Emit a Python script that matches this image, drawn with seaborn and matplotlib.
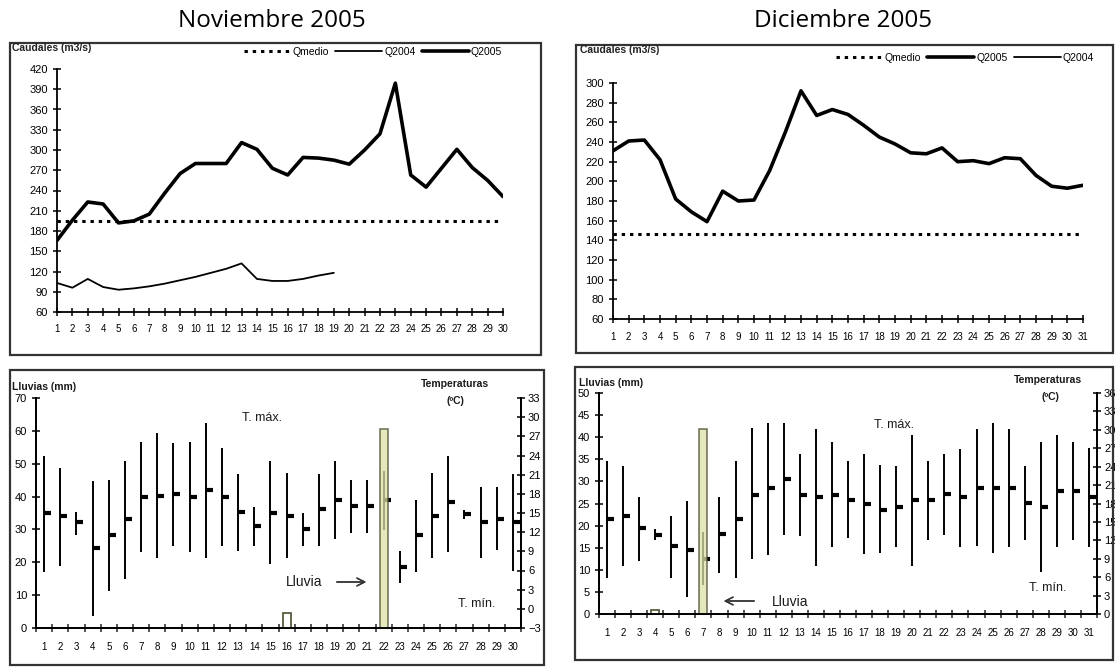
import numpy as np
import pandas as pd
import matplotlib
matplotlib.use("Agg")
import matplotlib.pyplot as plt
from matplotlib.patches import Rectangle
from matplotlib.lines import Line2D
import seaborn as sns

# ---------------- data ----------------
dias_nov = list(range(1, 31))
dias_dic = list(range(1, 32))

q2005_nov = [166, 196, 223, 220, 192, 195, 205, 236, 265, 280, 280, 280, 311, 301, 273,
             263, 289, 288, 285, 279, 300, 324, 399, 263, 245, 273, 301, 274, 255, 231]
q2004_nov = [103, 96, 109, 97, 93, 95, 98, 102, 107, 112, 118, 124, 132, 109, 106,
             106, 109, 114, 118]
qmedio_nov = 195

q2005_dic = [231, 241, 242, 222, 182, 169, 159, 190, 180, 181, 211, 250, 292, 267, 273,
             268, 257, 245, 238, 229, 228, 234, 220, 221, 218, 224, 223, 206, 195, 193, 196]
qmedio_dic = 146

lluvia_nov = [0, 0, 0, 0, 0, 0, 0, 0, 0, 0, 0, 0, 0, 0, 0,
              4.5, 0, 0, 0, 0, 0, 60.5, 0, 0, 0, 0, 0, 0, 0, 0]
tmax_nov = [24.0, 22.0, 15.1, 20.0, 20.2, 23.1, 26.1, 27.5, 26.0, 26.1, 29.1, 25.1, 21.1, 15.9, 23.1,
            21.2, 15.0, 21.1, 23.1, 20.2, 20.1, 21.6, 9.0, 17.1, 21.2, 24.0, 15.4, 19.0, 19.0, 21.1]
tmin_nov = [5.7, 6.7, 11.6, -1.1, 2.8, 4.7, 8.9, 7.9, 9.8, 8.9, 7.9, 9.8, 9.1, 9.8, 7.0,
            8.0, 9.8, 9.8, 11.0, 11.9, 11.9, 12.3, 4.0, 5.8, 8.0, 8.9, 14.1, 8.0, 9.2, 6.0]
tmed_nov = [15.0, 14.6, 13.6, 9.5, 11.5, 14.1, 17.5, 17.7, 18.0, 17.5, 18.6, 17.5, 15.2, 12.9, 15.0,
            14.6, 12.5, 15.6, 17.1, 16.1, 16.1, 17.0, 6.5, 11.5, 14.6, 16.7, 14.9, 13.6, 14.1, 13.6]

lluvia_dic = [0, 0, 0, 0.8, 0, 0, 41.8, 0, 0, 0, 0, 0, 0, 0, 0, 0,
              0, 0, 0, 0, 0, 0, 0, 0, 0, 0, 0, 0, 0, 0, 0]
tmax_dic = [25.0, 24.1, 19.1, 13.9, 15.9, 18.4, 13.4, 19.1, 25.0, 30.3, 31.1, 31.1, 26.1, 30.2, 28.0,
            25.0, 26.1, 24.2, 24.1, 29.1, 24.9, 26.1, 26.9, 30.2, 31.1, 30.2, 24.1, 28.0, 29.1, 28.0, 27.0]
tmin_dic = [5.9, 7.8, 8.6, 12.0, 5.9, 2.8, 4.7, 6.7, 5.9, 8.9, 9.6, 12.8, 12.7, 7.8, 10.9,
            12.3, 9.7, 9.9, 10.9, 7.8, 12.0, 12.8, 10.9, 11.0, 9.9, 10.9, 12.0, 6.8, 10.9, 12.0, 10.9]
tmed_dic = [15.5, 16.0, 14.0, 12.9, 11.0, 10.5, 9.0, 13.0, 15.5, 19.4, 20.5, 22.0, 19.4, 19.1, 19.4,
            18.5, 18.0, 17.0, 17.5, 18.5, 18.5, 19.5, 19.1, 20.6, 20.5, 20.5, 18.1, 17.5, 20.1, 20.1, 19.1]

titulos = ["Noviembre 2005", "Diciembre 2005"]

# ---------------- style ----------------
sns.set_theme(style="white")
plt.rcParams['font.family'] = ['Liberation Sans', 'DejaVu Sans']
plt.rcParams['axes.edgecolor'] = 'black'
plt.rcParams['text.color'] = 'black'

W, H = 1115, 669
fig = plt.figure(figsize=(W / 100, H / 100), dpi=100)


def rect(x0, y0, x1, y1):
    return [x0 / W, 1 - y1 / H, (x1 - x0) / W, (y1 - y0) / H]


def px(x, y):
    return x / W, 1 - y / H


# panel boxes
for (x0, y0, x1, y1) in [(10, 43, 541, 355), (576, 45, 1113, 353),
                         (10, 370, 544, 665), (575, 367, 1113, 660)]:
    fig.add_artist(Rectangle((x0 / W, 1 - y1 / H), (x1 - x0) / W, (y1 - y0) / H,
                             transform=fig.transFigure, fill=False, ec='#333333', lw=1.6))

# titles
fig.text(*px(272, 21), titulos[0], ha='center', va='center', fontsize=17.5, family='Open Sans', color='black')
fig.text(*px(843, 21), titulos[1], ha='center', va='center', fontsize=17.5, family='Open Sans', color='black')

LBL = 8


def style_q(ax, days, yticks):
    for s in ['top', 'right']:
        ax.spines[s].set_visible(False)
    for s in ['left', 'bottom']:
        ax.spines[s].set_linewidth(1.3)
    ax.set_xlim(days[0], days[-1])
    ax.set_ylim(yticks[0], yticks[-1])
    ax.set_xticks(days)
    ax.set_xticklabels([str(d) for d in days])
    ax.set_yticks(yticks)
    ax.tick_params(axis='both', direction='inout', length=6, width=1.1, labelsize=LBL,
                   colors='black', left=True, bottom=True)
    ax.tick_params(axis='x', pad=6, labelsize=7)
    ax.set_xlabel("")
    ax.set_ylabel("")
    ax.grid(False)


# ---------------- caudales noviembre ----------------
ax_qn = fig.add_axes(rect(57, 69, 503, 312))
df_qn = pd.DataFrame({'dia': dias_nov, 'Q2005': q2005_nov,
                      'Qmedio': [qmedio_nov] * len(dias_nov)})
df_q4 = pd.DataFrame({'dia': dias_nov[:len(q2004_nov)], 'Q2004': q2004_nov})
sns.lineplot(data=df_qn, x='dia', y='Qmedio', ax=ax_qn, color='black', lw=2.2,
             linestyle=(0, (1.1, 1.6)))
sns.lineplot(data=df_q4, x='dia', y='Q2004', ax=ax_qn, color='black', lw=1.3)
sns.lineplot(data=df_qn, x='dia', y='Q2005', ax=ax_qn, color='black', lw=2.6)
style_q(ax_qn, dias_nov, list(range(60, 421, 30)))

h_med = Line2D([], [], color='black', lw=2.2, linestyle=(0, (1.1, 1.6)))
h_04 = Line2D([], [], color='black', lw=1.3)
h_05 = Line2D([], [], color='black', lw=2.6)
fig.legend([h_med, h_04, h_05], ['Qmedio', 'Q2004', 'Q2005'], loc='center',
           bbox_to_anchor=px(373, 52), ncol=3, frameon=False, fontsize=7.5,
           handlelength=4.5, handletextpad=0.2, columnspacing=0.6)
fig.text(*px(12, 48), "Caudales (m3/s)", fontsize=7.5, fontweight='bold', va='center', color='#222222')

# ---------------- caudales diciembre ----------------
ax_qd = fig.add_axes(rect(613, 83, 1083, 319))
df_qd = pd.DataFrame({'dia': dias_dic, 'Q2005': q2005_dic,
                      'Qmedio': [qmedio_dic] * len(dias_dic)})
sns.lineplot(data=df_qd, x='dia', y='Qmedio', ax=ax_qd, color='black', lw=2.2,
             linestyle=(0, (1.1, 1.6)))
sns.lineplot(data=df_qd, x='dia', y='Q2005', ax=ax_qd, color='black', lw=2.6)
style_q(ax_qd, dias_dic, list(range(60, 301, 20)))
fig.legend([h_med, h_05, h_04], ['Qmedio', 'Q2005', 'Q2004'], loc='center',
           bbox_to_anchor=px(965, 58), ncol=3, frameon=False, fontsize=7.5,
           handlelength=4.5, handletextpad=0.2, columnspacing=0.6)
fig.text(*px(580, 50), "Caudales (m3/s)", fontsize=7.5, fontweight='bold', va='center', color='#222222')


# ---------------- lluvias / temperaturas ----------------
def lluvia_panel(box, days, lluvia, tmin, tmax, tmed, rain_ticks, temp_ticks):
    ax_t = fig.add_axes(box)
    ax_r = ax_t.twinx()
    # temperatures (drawn below the rain bars)
    ax_t.vlines(days, tmin, tmax, color='black', lw=1.4)
    ax_t.plot(days, tmed, linestyle='none', marker=1, ms=5, mew=3, color='black')
    ax_t.set_ylim(temp_ticks[0], temp_ticks[-1])
    ax_t.set_yticks(temp_ticks)
    ax_t.yaxis.tick_right()
    # rain bars
    df = pd.DataFrame({'dia': days, 'lluvia': lluvia})
    sns.barplot(data=df, x='dia', y='lluvia', ax=ax_r, native_scale=True, width=0.5,
                color='#e4eb9c', edgecolor='#4d4d2e', linewidth=1.2, alpha=0.75,
                errorbar=None)
    for p in ax_r.patches:
        if p.get_height() < 10:
            p.set_facecolor('white')
            p.set_alpha(1)
    ax_r.set_ylim(rain_ticks[0], rain_ticks[-1])
    ax_r.set_yticks(rain_ticks)
    ax_r.yaxis.tick_left()
    ax_r.set_ylabel("")
    ax_r.set_xlabel("")
    ax_t.set_xlim(days[0] - 0.5, days[-1] + 0.5)
    ax_t.set_xticks(np.arange(days[0] - 0.5, days[-1] + 1, 1))
    ax_t.set_xticklabels([])
    ax_t.set_xticks(days, minor=True)
    ax_t.set_xticklabels([str(d) for d in days], minor=True)
    ax_t.tick_params(axis='x', which='major', direction='inout', length=6, width=1.1, bottom=True)
    ax_t.tick_params(axis='x', which='minor', length=0, pad=10, labelsize=7, colors='black')
    ax_t.tick_params(axis='y', direction='inout', length=6, width=1.1, labelsize=LBL,
                     colors='black', right=True, left=False, pad=2)
    ax_r.tick_params(axis='y', direction='inout', length=6, width=1.1, labelsize=LBL,
                     colors='black', left=True, right=False)
    for a in (ax_t, ax_r):
        a.spines['top'].set_visible(False)
        a.grid(False)
        for s in ['left', 'right', 'bottom']:
            a.spines[s].set_linewidth(1.3)
    ax_t.set_ylabel("")
    ax_t.set_xlabel("")
    return ax_t, ax_r


lluvia_panel(rect(36, 398, 521, 628), dias_nov, lluvia_nov, tmin_nov, tmax_nov, tmed_nov,
             list(range(0, 71, 10)), list(range(-3, 34, 3)))
lluvia_panel(rect(599, 393, 1097, 614), dias_dic, lluvia_dic, tmin_dic, tmax_dic, tmed_dic,
             list(range(0, 51, 5)), list(range(0, 37, 3)))

txt = '#1a1a1a'
# noviembre annotations
fig.text(*px(12, 387), "Lluvias (mm)", fontsize=7.5, fontweight='bold', va='center', color=txt)
fig.text(*px(455, 384), "Temperaturas", fontsize=7.5, fontweight='bold', ha='center', va='center', color=txt)
fig.text(*px(455, 401), "(ºC)", fontsize=7.5, fontweight='bold', ha='center', va='center', color=txt)
fig.text(*px(262, 418), "T. máx.", fontsize=9, ha='center', va='center', color=txt)
fig.text(*px(304, 582), "Lluvia", fontsize=10, ha='center', va='center', color=txt)
fig.text(*px(477, 604), "T. mín.", fontsize=9, ha='center', va='center', color=txt)
fig.add_artist(plt.annotate("", xy=px(369, 582), xytext=px(334, 582), xycoords='figure fraction',
                            textcoords='figure fraction',
                            arrowprops=dict(arrowstyle='->', color='#333333', lw=1.0,
                                            mutation_scale=14)))
# diciembre annotations
fig.text(*px(579, 383), "Lluvias (mm)", fontsize=7.5, fontweight='bold', va='center', color=txt)
fig.text(*px(1048, 380), "Temperaturas", fontsize=7.5, fontweight='bold', ha='center', va='center', color=txt)
fig.text(*px(1050, 397), "(ºC)", fontsize=7.5, fontweight='bold', ha='center', va='center', color=txt)
fig.text(*px(894, 425), "T. máx.", fontsize=9, ha='center', va='center', color=txt)
fig.text(*px(790, 602), "Lluvia", fontsize=10, ha='center', va='center', color=txt)
fig.text(*px(1048, 588), "T. mín.", fontsize=9, ha='center', va='center', color=txt)
fig.add_artist(plt.annotate("", xy=px(721, 601), xytext=px(757, 601), xycoords='figure fraction',
                            textcoords='figure fraction',
                            arrowprops=dict(arrowstyle='->', color='#333333', lw=1.0,
                                            mutation_scale=14)))

fig.savefig("out.png", dpi=100)
